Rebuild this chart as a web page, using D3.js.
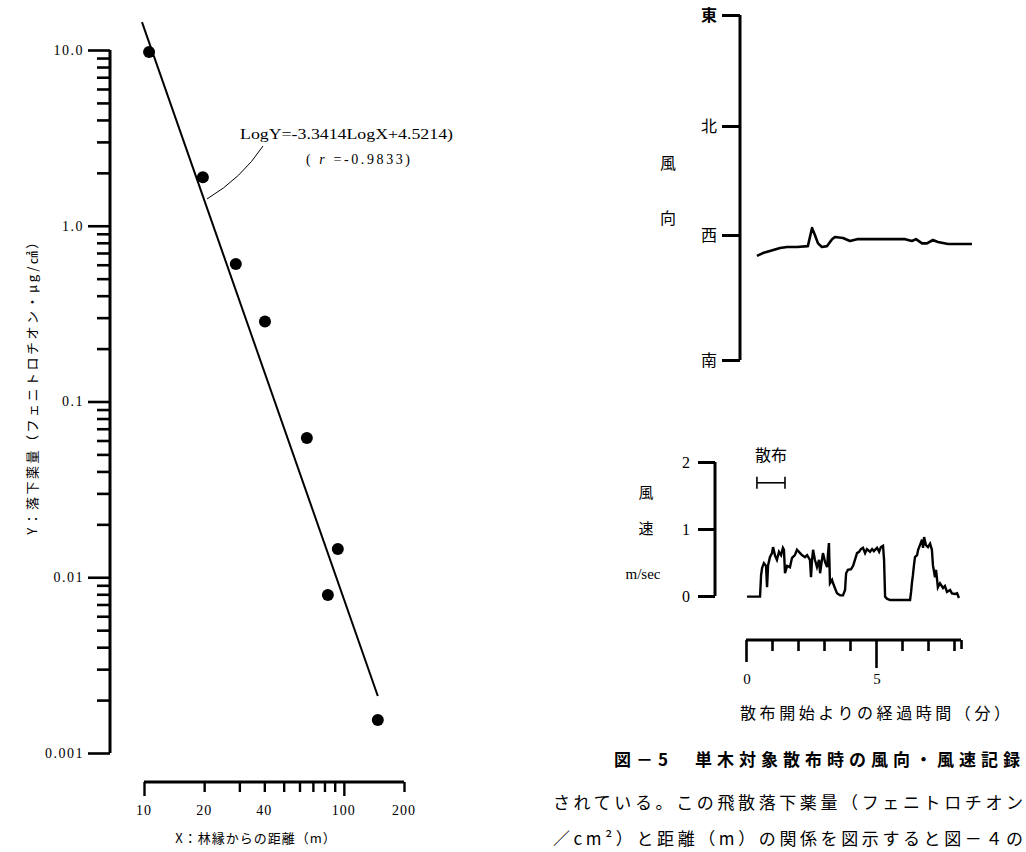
<!DOCTYPE html>
<html><head><meta charset="utf-8">
<script src="https://cdn.jsdelivr.net/npm/d3@7"></script>
<style>body{margin:0;background:#fff} svg{display:block}</style>
</head><body><svg id="c" width="1026" height="852"></svg>
<script>
// ---- Left chart: deposit vs distance (log-log) ----
const distance = [10.6, 19.7, 28.8, 40.3, 65.3, 93.3, 83.2, 147.9];
const deposit  = [9.74, 1.89, 0.606, 0.285, 0.062, 0.0145, 0.00792, 0.00154];
const fitX = [9.77, 147.9];
const fitY = [14.4, 0.00211];
const yTickValues = [10, 1, 0.1, 0.01, 0.001];
const yTickLabels = ["10.0", "1.0", "0.1", "0.01", "0.001"];
const xTickValues = [10, 20, 30, 40, 50, 60, 70, 80, 90, 100, 200];
const xLabelValues = [10, 20, 40, 100, 200];
const xLabelTexts = ["10", "20", "40", "100", "200"];
const eqLine1 = "LogY=-3.3414LogX+4.5214)";
const eqLine2r = "r";
const eqLine2v = "=-0.9833)";
const yTitle = "Y：落下薬量（フェニトロチオン・μg/㎠）";
const xTitle = "X：林縁からの距離（m）";

// ---- Right top: wind direction ----
const dirNames = ["南", "西", "北", "東"];
const dirDegrees = [180, 270, 360, 450];
const dirTime = [0.42,0.65,0.92,1.31,1.58,1.96,2.38,2.46,2.54,2.65,2.77,2.92,3.12,3.31,3.42,3.73,4.0,4.27,4.88,5.54,6.12,6.38,6.54,6.77,6.96,7.19,7.38,7.77,8.23,8.69];
const dirDeg  = [255,257,258.5,260.6,261.4,261.4,262,268.6,275.8,270,264,261.4,262,267,268.6,267.8,265.7,267,267,267,267,265.7,267,264,264,266.4,265,263.5,263.5,263.5];

// ---- Right bottom: wind speed ----
const speedTicks = [0, 1, 2];
const speedTime = [0.04,0.54,0.58,0.62,0.69,0.77,0.81,0.85,0.92,1.0,1.04,1.12,1.19,1.27,1.35,1.42,1.46,1.50,1.58,1.69,1.77,1.88,1.96,2.08,2.15,2.27,2.35,2.46,2.50,2.54,2.58,2.65,2.73,2.81,2.85,2.92,2.96,3.04,3.12,3.15,3.19,3.23,3.31,3.35,3.42,3.50,3.62,3.73,3.81,3.85,3.92,4.04,4.12,4.19,4.27,4.35,4.42,4.50,4.58,4.65,4.77,4.85,4.92,5.04,5.12,5.19,5.27,5.31,5.35,5.42,5.54,5.92,6.31,6.35,6.38,6.42,6.46,6.5,6.58,6.62,6.69,6.77,6.81,6.85,6.92,7.0,7.08,7.15,7.19,7.27,7.31,7.38,7.46,7.58,7.65,7.73,7.85,7.92,8.04,8.12,8.19];
const speedValue = [-0.01,-0.01,0.31,0.42,0.49,0.45,0.13,0.46,0.58,0.64,0.73,0.60,0.54,0.66,0.61,0.72,0.69,0.34,0.45,0.43,0.57,0.61,0.69,0.64,0.61,0.58,0.61,0.54,0.28,0.54,0.69,0.54,0.43,0.54,0.34,0.54,0.64,0.51,0.43,0.61,0.79,0.19,0.24,0.19,0.12,0.04,0.01,0.01,0.09,0.34,0.39,0.40,0.45,0.54,0.64,0.66,0.70,0.72,0.64,0.70,0.66,0.70,0.67,0.72,0.66,0.73,0.75,0.54,-0.01,-0.04,-0.06,-0.06,-0.06,0.06,0.19,0.31,0.46,0.58,0.61,0.69,0.76,0.84,0.72,0.88,0.76,0.73,0.78,0.69,0.46,0.28,0.39,0.13,0.19,0.12,0.15,0.06,0.09,0.04,0.03,0.04,-0.03];
const sprayStart = 0.42, sprayEnd = 1.5, sprayLevel = 1.69;
const timeTicks = [0, 1, 2, 3, 4, 5, 6, 7, 8, 8.27];
const timeLabels = [0, 5];
const timeEnd = 8.27;

const captionAxis = "散布開始よりの経過時間（分）";
const captionFig = "図－5　単木対象散布時の風向・風速記録";
const body1 = "されている。この飛散落下薬量（フェニトロチオン";
const body2 = "／cm²）と距離（m）の関係を図示すると図－４の";

const SERIF = "'Liberation Serif','DejaVu Serif','Noto Sans CJK JP',serif";
const JP = "'Noto Sans CJK JP','Liberation Serif',sans-serif";

const svg = d3.select("#c");

// ================= LEFT CHART =================
const x = d3.scaleLog().domain([10, 200]).range([144, 404]);
const y = d3.scaleLog().domain([0.001, 10]).range([753, 50]);
const isMajor = v => Math.abs(Math.log10(v) - Math.round(Math.log10(v))) < 1e-9;

const yAxisG = svg.append("g").attr("transform", "translate(110,0)")
  .call(d3.axisLeft(y).tickValues(y.ticks()).tickSizeOuter(0).tickSize(13).tickFormat(""));
yAxisG.select(".domain").attr("stroke-width", 3).attr("d", `M0,${y(10)}V${y(0.001)}`);
yAxisG.selectAll(".tick line").attr("stroke-width", 2.6)
  .attr("x2", d => isMajor(d) ? -22 : -13);

svg.append("g").selectAll("text").data(yTickValues).join("text")
  .attr("x", 84).attr("y", d => y(d)).attr("dy", "0.35em")
  .attr("text-anchor", "end").attr("font-family", SERIF).attr("font-size", 14)
  .attr("letter-spacing", 1.5)
  .text((d, i) => yTickLabels[i]);

const xAxisG = svg.append("g").attr("transform", "translate(0,782)")
  .call(d3.axisBottom(x).tickValues(xTickValues).tickSizeOuter(0).tickSize(10).tickFormat(""));
xAxisG.select(".domain").attr("stroke-width", 3).attr("d", `M${x(10)},0H${x(200)}`);
xAxisG.selectAll(".tick line").attr("stroke-width", 2.4)
  .attr("y2", d => (d === 10 || d === 100) ? 14 : 10);

svg.append("g").selectAll("text").data(xLabelValues).join("text")
  .attr("x", d => x(d)).attr("y", 815).attr("text-anchor", "middle")
  .attr("font-family", SERIF).attr("font-size", 14).attr("letter-spacing", 1)
  .text((d, i) => xLabelTexts[i]);

svg.append("text").attr("x", 256).attr("y", 843).attr("text-anchor", "middle")
  .attr("font-family", JP).attr("font-size", 13).attr("letter-spacing", 1).text(xTitle);

svg.append("text").attr("transform", "translate(37,384) rotate(-90)")
  .attr("text-anchor", "middle").attr("font-family", JP).attr("font-size", 13)
  .attr("letter-spacing", 2.5).text(yTitle);

// regression line
svg.append("path").datum(d3.zip(fitX, fitY))
  .attr("d", d3.line().x(d => x(d[0])).y(d => y(d[1])))
  .attr("stroke", "#000").attr("stroke-width", 2).attr("fill", "none");

// points
svg.append("g").selectAll("circle").data(d3.zip(distance, deposit)).join("circle")
  .attr("cx", d => x(d[0])).attr("cy", d => y(d[1])).attr("r", 6).attr("fill", "#000");

// annotation
svg.append("path").attr("d", "M263,146 Q242,178 207,199")
  .attr("stroke", "#000").attr("stroke-width", 1).attr("fill", "none");
svg.append("text").attr("x", 240).attr("y", 139).attr("font-family", SERIF)
  .attr("font-size", 14).attr("textLength", 213).attr("lengthAdjust", "spacingAndGlyphs").text(eqLine1);
const t2 = svg.append("text").attr("x", 306).attr("y", 164).attr("font-family", SERIF).attr("font-size", 14)
  .attr("textLength", 104).attr("lengthAdjust", "spacing");
t2.append("tspan").text("( ");
t2.append("tspan").attr("font-style", "italic").text(eqLine2r);
t2.append("tspan").text(" " + eqLine2v);

// ================= RIGHT: DIRECTION =================
const tx = d3.scaleLinear().domain([0, 5]).range([746, 876]);
const yd = d3.scaleLinear().domain(dirDegrees).range([360, 235, 126, 15]);

const dAxis = svg.append("g").attr("transform", "translate(740,0)")
  .call(d3.axisLeft(yd).tickValues(dirDegrees).tickSizeOuter(0).tickSize(18).tickFormat(""));
dAxis.select(".domain").attr("stroke-width", 3).attr("d", `M0,${yd(450)}V${yd(180)}`);
dAxis.selectAll(".tick line").attr("stroke-width", 3);

svg.append("g").selectAll("text").data(dirDegrees).join("text")
  .attr("x", 709).attr("y", d => yd(d)).attr("dy", "0.36em").attr("text-anchor", "middle")
  .attr("font-family", JP).attr("font-size", 16)
  .attr("font-weight", (d, i) => i === 3 ? "bold" : "normal")
  .text((d, i) => dirNames[i]);

svg.append("text").attr("x", 668).attr("y", 169).attr("text-anchor", "middle")
  .attr("font-family", JP).attr("font-size", 16).text("風");
svg.append("text").attr("x", 668).attr("y", 224).attr("text-anchor", "middle")
  .attr("font-family", JP).attr("font-size", 16).text("向");

svg.append("path").datum(d3.zip(dirTime, dirDeg))
  .attr("d", d3.line().x(d => tx(d[0])).y(d => yd(d[1])))
  .attr("stroke", "#000").attr("stroke-width", 2.6).attr("fill", "none").attr("stroke-linejoin", "round");

// ================= RIGHT: SPEED =================
const ys = d3.scaleLinear().domain([0, 2]).range([596, 462]);
const sAxis = svg.append("g").attr("transform", "translate(715,0)")
  .call(d3.axisLeft(ys).tickValues(speedTicks).tickSizeOuter(0).tickSize(17).tickFormat(""));
sAxis.select(".domain").attr("stroke-width", 3).attr("d", `M0,${ys(2)}V${ys(0)}`);
sAxis.selectAll(".tick line").attr("stroke-width", 3);

svg.append("g").selectAll("text").data(speedTicks).join("text")
  .attr("x", 686).attr("y", d => ys(d)).attr("dy", "0.36em").attr("text-anchor", "middle")
  .attr("font-family", SERIF).attr("font-size", 16).text(d => d);

svg.append("text").attr("x", 646).attr("y", 498).attr("text-anchor", "middle")
  .attr("font-family", JP).attr("font-size", 15).text("風");
svg.append("text").attr("x", 646).attr("y", 534).attr("text-anchor", "middle")
  .attr("font-family", JP).attr("font-size", 15).text("速");
svg.append("text").attr("x", 643).attr("y", 579).attr("text-anchor", "middle")
  .attr("font-family", SERIF).attr("font-size", 15).text("m/sec");

svg.append("path").datum(d3.zip(speedTime, speedValue))
  .attr("d", d3.line().x(d => tx(d[0])).y(d => ys(d[1])))
  .attr("stroke", "#000").attr("stroke-width", 2.4).attr("fill", "none").attr("stroke-linejoin", "miter");

// spray bar
const sprayG = svg.append("g").attr("stroke", "#000").attr("stroke-width", 1.6);
sprayG.append("line").attr("x1", tx(sprayStart)).attr("x2", tx(sprayEnd))
  .attr("y1", ys(sprayLevel)).attr("y2", ys(sprayLevel));
[sprayStart, sprayEnd].forEach(v => sprayG.append("line")
  .attr("x1", tx(v)).attr("x2", tx(v)).attr("y1", ys(sprayLevel) - 6).attr("y2", ys(sprayLevel) + 6));
svg.append("text").attr("x", tx((sprayStart + sprayEnd) / 2)).attr("y", 461).attr("text-anchor", "middle")
  .attr("font-family", JP).attr("font-size", 16).text("散布");

// time axis
const tAxis = svg.append("g").attr("transform", "translate(0,640)")
  .call(d3.axisBottom(tx).tickValues(timeTicks).tickSizeOuter(0).tickSize(11).tickFormat(""));
tAxis.select(".domain").attr("stroke-width", 3).attr("d", `M${tx(0)},0H${tx(timeEnd)}`);
tAxis.selectAll(".tick line").attr("stroke-width", 2.6)
  .attr("y2", d => d === 0 ? 22 : d === 5 ? 28 : d === timeEnd ? 9 : 11);
svg.append("g").selectAll("text").data(timeLabels).join("text")
  .attr("x", d => tx(d) + 1).attr("y", 684).attr("text-anchor", "middle")
  .attr("font-family", SERIF).attr("font-size", 15).text(d => d);

// captions
svg.append("text").attr("x", 740).attr("y", 719).attr("font-family", JP).attr("font-size", 16)
  .attr("textLength", 270).attr("lengthAdjust", "spacing").text(captionAxis);
svg.append("text").attr("x", 614).attr("y", 766).attr("font-family", JP).attr("font-size", 17)
  .attr("font-weight", "bold").attr("textLength", 406).attr("lengthAdjust", "spacing").text(captionFig);
svg.append("text").attr("x", 553).attr("y", 809).attr("font-family", JP).attr("font-size", 17)
  .attr("textLength", 470).attr("lengthAdjust", "spacing").text(body1);
svg.append("text").attr("x", 553).attr("y", 845).attr("font-family", JP).attr("font-size", 17)
  .attr("textLength", 470).attr("lengthAdjust", "spacing").text(body2);
</script></body></html>
